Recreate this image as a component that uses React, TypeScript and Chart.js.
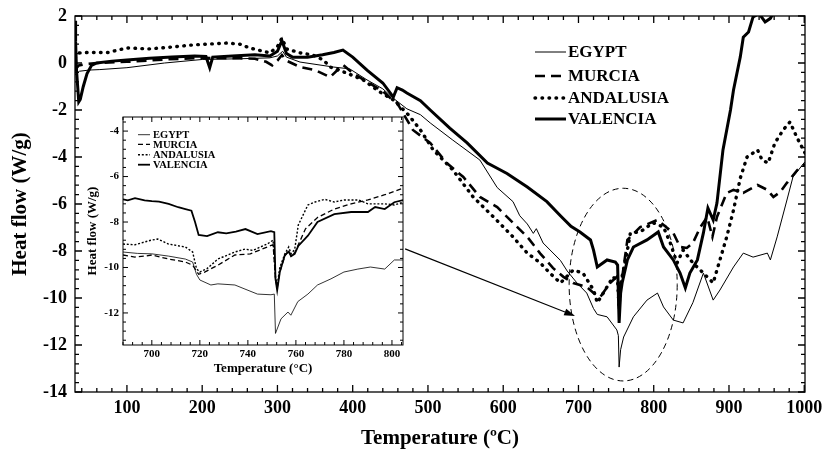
import { useEffect, useRef } from 'react';
import { Chart, registerables } from 'chart.js';
Chart.register(...registerables);

const FONT = "'Liberation Serif', 'Times New Roman', serif";

const seriesNames = ['EGYPT', 'MURCIA', 'ANDALUSIA', 'VALENCIA'];

// main plot: [temperature °C, heat flow W/g]
const egyptMain: [number, number][] = [
  [31, -0.5], [37, -0.35], [50, -0.3], [64, -0.28], [100, -0.2], [150, 0.0], [200, 0.15], [250, 0.18],
  [290, 0.22], [300, 0.3], [307, 0.5], [312, 0.25], [330, 0.04], [374, -0.17], [396, -0.25], [419, -0.72],
  [440, -1.1], [454, -1.5], [472, -1.95], [490, -2.2], [503, -2.55], [533, -3.28], [569, -4.13], [592, -5.3],
  [613, -5.9], [622, -6.5], [632, -6.85], [640, -7.25], [644, -7.05], [653, -7.66], [676, -8.4], [685, -8.85],
  [698, -9.36], [711, -9.79], [720, -10.45], [725, -10.7], [738, -10.8], [751, -11.36], [753, -11.6],
  [754, -12.94], [756, -12.2], [760, -11.66], [773, -10.8], [791, -10.09], [805, -9.79], [813, -10.38],
  [826, -10.94], [839, -11.06], [852, -10.2], [866, -8.94], [879, -10.09], [888, -9.66], [906, -8.68],
  [919, -8.09], [932, -8.26], [951, -8.09], [955, -8.38], [964, -7.4], [977, -5.83], [985, -4.85], [1001, -4.2],
];
const murciaMain: [number, number][] = [
  [31, -0.3], [36, -0.1], [45, -0.05], [60, 0.0], [100, 0.05], [150, 0.15], [200, 0.22], [250, 0.2],
  [270, 0.18], [285, 0.05], [293, -0.1], [300, 0.1], [306, 0.34], [312, 0.1], [330, -0.17], [350, -0.3],
  [370, -0.6], [387, -0.08], [400, -0.43], [419, -0.8], [440, -1.2], [454, -1.6], [459, -1.7], [480, -2.85],
  [503, -3.4], [525, -4.26], [547, -4.85], [569, -5.7], [592, -6.13], [613, -6.8], [632, -7.4], [649, -8.1],
  [666, -8.72], [680, -9.1], [693, -9.36], [711, -9.53], [720, -9.79], [729, -9.96], [742, -9.36], [751, -9.1],
  [753, -9.2], [754, -10.6], [756, -9.6], [765, -7.53], [782, -6.98], [805, -6.68], [826, -7.23], [835, -7.83],
  [844, -7.87], [852, -7.66], [862, -6.98], [871, -6.55], [878, -7.4], [884, -6.55], [897, -5.53], [906, -5.4],
  [919, -5.53], [938, -5.19], [951, -5.4], [959, -5.7], [968, -5.49], [977, -5.1], [991, -4.55], [1001, -4.3],
];
const andalusiaMain: [number, number][] = [
  [31, 0.2], [37, 0.43], [50, 0.45], [75, 0.45], [100, 0.64], [130, 0.6], [160, 0.68], [188, 0.77],
  [233, 0.85], [250, 0.8], [263, 0.64], [290, 0.43], [300, 0.7], [306, 1.06], [312, 0.6], [330, 0.43],
  [347, 0.34], [361, 0.13], [370, -0.17], [392, -0.43], [414, -0.72], [436, -1.23], [454, -1.57], [472, -2.13],
  [490, -2.85], [507, -3.7], [533, -4.55], [560, -5.7], [587, -6.55], [613, -7.4], [632, -8.09], [649, -8.5],
  [662, -8.94], [676, -9.36], [693, -8.81], [706, -8.94], [720, -9.66], [725, -10.2], [733, -9.79], [746, -9.1],
  [752, -9.3], [754, -10.4], [756, -9.4], [765, -7.96], [769, -7.23], [782, -7.19], [799, -6.8], [813, -6.98],
  [822, -7.66], [831, -8.51], [839, -7.96], [852, -8.51], [866, -8.94], [879, -9.36], [884, -8.81], [897, -7.4],
  [906, -6.26], [915, -4.9], [924, -4.0], [938, -3.7], [944, -4.13], [952, -4.26], [961, -3.4], [972, -2.85],
  [981, -2.51], [990, -3.15], [1001, -3.83],
];
const valenciaMain: [number, number][] = [
  [31, 1.8], [31.8, 0.9], [33, -0.3], [36, -1.65], [38, -1.55], [42, -1.0], [47, -0.45], [53, -0.1], [60, 0.0],
  [80, 0.08], [100, 0.13], [130, 0.2], [160, 0.26], [190, 0.3], [205, 0.28], [210, -0.2], [214, 0.25], [240, 0.3],
  [270, 0.35], [290, 0.3], [300, 0.5], [306, 0.95], [312, 0.4], [320, 0.25], [340, 0.25], [360, 0.35], [375, 0.45],
  [387, 0.55], [400, 0.25], [419, -0.3], [440, -0.85], [454, -1.45], [459, -1.05], [466, -1.15], [472, -1.28],
  [490, -1.6], [503, -2.0], [529, -2.77], [552, -3.4], [579, -4.26], [605, -4.7], [632, -5.28], [658, -5.9],
  [676, -6.5], [690, -6.95], [702, -7.19], [716, -7.53], [720, -7.96], [725, -8.68], [738, -8.38], [749, -8.47],
  [752, -8.6], [754, -11.06], [756, -9.8], [758, -9.36], [765, -8.38], [773, -7.83], [791, -7.53], [806, -7.19],
  [813, -7.83], [826, -8.38], [835, -8.94], [842, -9.57], [848, -8.94], [858, -8.38], [866, -7.23], [872, -6.17],
  [879, -6.68], [884, -5.96], [892, -3.7], [902, -2.0], [906, -1.15], [915, 0.26], [919, 1.1], [926, 1.32],
  [932, 1.96], [940, 2.1], [948, 1.75], [955, 1.9], [962, 2.3], [975, 2.6], [990, 2.9], [1001, 3.1],
];

// inset: 688–805 °C zoom
const egyptInset: [number, number][] = [
  [688, -9.32], [694, -9.38], [700, -9.4], [707, -9.5], [714, -9.63], [717, -9.76], [718.6, -10.3], [720, -10.55],
  [724.6, -10.77], [727.5, -10.72], [734.6, -10.77], [738.8, -10.95], [744, -11.17], [749.6, -11.2], [751, -11.17],
  [751.5, -12.9], [753.8, -12.26], [756.7, -11.96], [757.9, -12.1], [760.8, -11.5], [765, -11.17], [769, -10.77],
  [774.6, -10.5], [780, -10.2], [785.8, -10.07], [791, -9.98], [797, -10.07], [801, -9.67], [805, -9.67],
];
const murciaInset: [number, number][] = [
  [688, -9.45], [693, -9.54], [697, -9.5], [700, -9.45], [707, -9.63], [714, -9.76], [717, -9.9], [719.5, -10.3],
  [722, -10.2], [727.5, -9.9], [734.6, -9.45], [741, -9.4], [748, -9.1], [750.5, -9.0], [751.5, -10.5],
  [752.2, -10.9], [753.3, -10.2], [755.4, -9.5], [757, -9.25], [758, -9.5], [759.5, -9.35], [764, -8.3],
  [769, -7.8], [776, -7.43], [783, -7.2], [790, -7.03], [797, -6.8], [805, -6.5],
];
const andalusiaInset: [number, number][] = [
  [688, -8.97], [693, -9.0], [699.6, -8.8], [702.5, -8.75], [707, -8.97], [714, -9.1], [717, -9.32], [718.6, -10.05],
  [720, -10.2], [723, -10.05], [727.5, -9.63], [734.6, -9.32], [738.8, -9.19], [742, -9.25], [748, -8.97],
  [750.5, -8.8], [751.5, -10.4], [752.2, -10.8], [753.3, -10.0], [755.4, -9.4], [757, -9.1], [758, -9.4],
  [759.5, -9.2], [761, -8.13], [765, -7.25], [768, -7.12], [772, -7.0], [776, -7.12], [780, -7.03], [786, -7.03],
  [790, -7.2], [797, -7.2], [801, -7.25], [805, -7.12],
];
const valenciaInset: [number, number][] = [
  [688, -7.0], [690, -7.05], [693, -6.95], [697, -7.05], [700, -7.08], [703, -7.1], [707, -7.2], [711, -7.35],
  [714, -7.43], [716.5, -7.5], [718, -8.0], [719.5, -8.57], [723, -8.62], [727.5, -8.45], [731, -8.5], [735, -8.42],
  [739, -8.31], [744, -8.53], [749.6, -8.4], [751, -8.45], [751.5, -10.5], [752.2, -11.0], [753.3, -10.2],
  [755.4, -9.45], [757, -9.3], [758, -9.5], [759.5, -9.4], [761, -9.05], [765, -8.6], [769, -8.0], [776, -7.65],
  [783, -7.56], [790, -7.56], [793, -7.34], [797, -7.43], [801, -7.13], [805, -7.03],
];

const mainXTicks = [100, 200, 300, 400, 500, 600, 700, 800, 900, 1000];
const mainYTicks = [-14, -12, -10, -8, -6, -4, -2, 0, 2];
const insetXTicks = [700, 720, 740, 760, 780, 800];
const insetYTicks = [-12, -10, -8, -6, -4];

const toXY = (p: [number, number][]) => p.map(([x, y]) => ({ x, y }));

const mainStyles = [
  { borderWidth: 1 },
  { borderWidth: 2.6, borderDash: [10, 6] },
  { borderWidth: 3.4, borderDash: [0.6, 6.4], borderCapStyle: 'round' },
  { borderWidth: 3 },
];
const insetStyles = [
  { borderWidth: 0.8 },
  { borderWidth: 1.3, borderDash: [5, 3] },
  { borderWidth: 1.4, borderDash: [2, 1.8] },
  { borderWidth: 1.8 },
];

function isMult(v: number, step: number) {
  const r = v / step;
  return Math.abs(r - Math.round(r)) < 1e-6;
}

const frameTicks = {
  id: 'frameTicks',
  afterDatasetsDraw(chart: any, _a: any, o: any) {
    const { ctx, chartArea, scales } = chart;
    const { left, right, top, bottom } = chartArea;
    const x = scales.x, y = scales.y;
    ctx.save();
    ctx.strokeStyle = '#000';
    ctx.lineWidth = o.lw;
    ctx.setLineDash([]);
    ctx.beginPath();
    for (let i = Math.ceil(x.min / o.xMinor); i * o.xMinor <= x.max + 1e-9; i++) {
      const v = i * o.xMinor;
      const px = x.getPixelForValue(v);
      const L = isMult(v, o.xMajor) ? o.major : o.minor;
      ctx.moveTo(px, bottom); ctx.lineTo(px, bottom - L);
      ctx.moveTo(px, top); ctx.lineTo(px, top + L);
    }
    for (let i = Math.ceil(y.min / o.yMinor - 1e-9); i * o.yMinor <= y.max + 1e-9; i++) {
      const v = i * o.yMinor;
      const py = y.getPixelForValue(v);
      const L = isMult(v, o.yMajor) ? o.major : o.minor;
      ctx.moveTo(left, py); ctx.lineTo(left + L, py);
      ctx.moveTo(right, py); ctx.lineTo(right - L, py);
    }
    ctx.stroke();
    ctx.strokeRect(left, top, right - left, bottom - top);
    ctx.restore();
  },
};

function drawLegend(chart: any, o: any) {
  const { ctx } = chart;
  ctx.save();
  chart.data.datasets.forEach((ds: any, i: number) => {
    const yy = o.ys[i];
    ctx.strokeStyle = '#000';
    ctx.lineWidth = ds.borderWidth;
    ctx.lineCap = ds.borderCapStyle || 'butt';
    ctx.setLineDash(ds.borderDash || []);
    ctx.beginPath();
    ctx.moveTo(o.x0, yy);
    ctx.lineTo(o.x1, yy);
    ctx.stroke();
    ctx.setLineDash([]);
    ctx.fillStyle = '#000';
    ctx.font = `bold ${o.size}px ${FONT}`;
    ctx.textBaseline = 'middle';
    ctx.textAlign = 'left';
    ctx.fillText(ds.label, o.tx, yy + o.dy);
  });
  ctx.restore();
}

const mainDecor = {
  id: 'mainDecor',
  afterDatasetsDraw(chart: any, _a: any, o: any) {
    const { ctx, scales } = chart;
    const x = scales.x, y = scales.y;
    ctx.save();
    // dashed ellipse
    const cx = x.getPixelForValue(o.ellipse.cx);
    const cy = y.getPixelForValue(o.ellipse.cy);
    const rx = Math.abs(x.getPixelForValue(o.ellipse.cx + o.ellipse.rx) - cx);
    const ry = Math.abs(y.getPixelForValue(o.ellipse.cy + o.ellipse.ry) - cy);
    ctx.strokeStyle = '#000';
    ctx.lineWidth = 1;
    ctx.setLineDash([6, 4]);
    ctx.beginPath();
    ctx.ellipse(cx, cy, rx, ry, 0, 0, Math.PI * 2);
    ctx.stroke();
    ctx.setLineDash([]);
    // arrow
    const x0 = x.getPixelForValue(o.arrow.from[0]), y0 = y.getPixelForValue(o.arrow.from[1]);
    const x1 = x.getPixelForValue(o.arrow.to[0]), y1 = y.getPixelForValue(o.arrow.to[1]);
    const ang = Math.atan2(y1 - y0, x1 - x0);
    const hl = 11, hw = 3.5;
    ctx.lineWidth = 1.1;
    ctx.beginPath();
    ctx.moveTo(x0, y0);
    ctx.lineTo(x1 - hl * Math.cos(ang), y1 - hl * Math.sin(ang));
    ctx.stroke();
    ctx.fillStyle = '#000';
    ctx.beginPath();
    ctx.moveTo(x1, y1);
    ctx.lineTo(x1 - hl * Math.cos(ang) + hw * Math.sin(ang), y1 - hl * Math.sin(ang) - hw * Math.cos(ang));
    ctx.lineTo(x1 - hl * Math.cos(ang) - hw * Math.sin(ang), y1 - hl * Math.sin(ang) + hw * Math.cos(ang));
    ctx.closePath();
    ctx.fill();
    ctx.restore();
    drawLegend(chart, o.legend);
  },
};

const insetDecor = {
  id: 'insetDecor',
  beforeDatasetsDraw(chart: any) {
    const { ctx, chartArea } = chart;
    ctx.save();
    ctx.fillStyle = '#fff';
    ctx.fillRect(chartArea.left, chartArea.top, chartArea.right - chartArea.left, chartArea.bottom - chartArea.top);
    ctx.restore();
  },
  afterDatasetsDraw(chart: any, _a: any, o: any) {
    drawLegend(chart, o.legend);
  },
};

function makeDatasets(series: [number, number][][], styles: any[]) {
  return series.map((s, i) => ({
    label: seriesNames[i],
    data: toXY(s),
    borderColor: '#000',
    backgroundColor: '#000',
    pointRadius: 0,
    tension: 0,
    fill: false,
    ...styles[i],
  }));
}

function axisCfg(opts: any) {
  return {
    type: 'linear',
    min: opts.min,
    max: opts.max,
    grid: { display: false, drawTicks: false },
    border: { display: false },
    afterBuildTicks: (s: any) => { s.ticks = opts.ticks.map((v: number) => ({ value: v })); },
    afterFit: opts.afterFit,
    ticks: {
      autoSkip: false,
      maxRotation: 0,
      color: '#000',
      padding: opts.pad,
      font: { family: FONT, size: opts.tickSize, weight: 'bold' },
      callback: (v: any) => String(v),
    },
    title: {
      display: true,
      text: opts.title,
      color: '#000',
      font: { family: FONT, size: opts.titleSize, weight: 'bold' },
      padding: opts.titlePad,
    },
  };
}

export default function App() {
  const mainRef = useRef<HTMLCanvasElement>(null);
  const insetRef = useRef<HTMLCanvasElement>(null);

  useEffect(() => {
    const main = new Chart(mainRef.current as HTMLCanvasElement, {
      type: 'line',
      data: { datasets: makeDatasets([egyptMain, murciaMain, andalusiaMain, valenciaMain], mainStyles) as any },
      options: {
        animation: false,
        responsive: false,
        events: [],
        layout: { padding: { top: 16, right: 18, left: 0, bottom: 0 } },
        scales: {
          x: axisCfg({
            min: 31, max: 1001, ticks: mainXTicks, pad: 6, tickSize: 18, title: 'Temperature (ºC)', titleSize: 21,
            titlePad: { top: 0, bottom: 0 },
            afterFit: (s: any) => { s.height = 59; s.paddingLeft = 0; s.paddingRight = 0; },
          }),
          y: axisCfg({
            min: -14, max: 2, ticks: mainYTicks, pad: 8, tickSize: 18, title: 'Heat flow (W/g)', titleSize: 21,
            titlePad: { top: 8, bottom: 0 },
            afterFit: (s: any) => { s.width = 75; s.paddingTop = 0; s.paddingBottom = 0; },
          }),
        } as any,
        plugins: {
          legend: { display: false },
          tooltip: { enabled: false },
          frameTicks: { lw: 1.3, xMinor: 20, xMajor: 100, yMinor: 0.4, yMajor: 2, major: 7, minor: 4 },
          mainDecor: {
            ellipse: { cx: 759.4, cy: -9.43, rx: 71.8, ry: 4.1 },
            arrow: { from: [469.6, -7.91], to: [695.6, -10.77] },
            legend: { x0: 535, x1: 566, tx: 568, ys: [52, 76, 98, 119], size: 17, dy: 1 },
          },
        } as any,
      },
      plugins: [frameTicks, mainDecor],
    });

    const inset = new Chart(insetRef.current as HTMLCanvasElement, {
      type: 'line',
      data: { datasets: makeDatasets([egyptInset, murciaInset, andalusiaInset, valenciaInset], insetStyles) as any },
      options: {
        animation: false,
        responsive: false,
        events: [],
        layout: { padding: { top: 7, right: 7, left: 0, bottom: 0 } },
        scales: {
          x: axisCfg({
            min: 688, max: 804.6, ticks: insetXTicks, pad: 3, tickSize: 11, title: 'Temperature (°C)', titleSize: 13,
            titlePad: { top: 0, bottom: 2 },
            afterFit: (s: any) => { s.height = 33; s.paddingLeft = 0; s.paddingRight = 0; },
          }),
          y: axisCfg({
            min: -13.41, max: -3.38, ticks: insetYTicks, pad: 4, tickSize: 11, title: 'Heat flow (W/g)', titleSize: 13,
            titlePad: { top: 5, bottom: 0 },
            afterFit: (s: any) => { s.width = 43; s.paddingTop = 0; s.paddingBottom = 0; },
          }),
        } as any,
        plugins: {
          legend: { display: false },
          tooltip: { enabled: false },
          frameTicks: { lw: 1, xMinor: 4, xMajor: 20, yMinor: 0.4, yMajor: 2, major: 5, minor: 3 },
          insetDecor: {
            legend: { x0: 58, x1: 70, tx: 73, ys: [24.7, 34.3, 44.7, 54.7], size: 10.5, dy: 0.5 },
          },
        } as any,
      },
      plugins: [insetDecor, frameTicks],
    });

    return () => {
      main.destroy();
      inset.destroy();
    };
  }, []);

  return (
    <div style={{ position: 'fixed', left: 0, top: 0, width: 823, height: 451, background: '#fff' }}>
      <canvas ref={mainRef} width={823} height={451} style={{ position: 'absolute', left: 0, top: 0, display: 'block' }} />
      <canvas ref={insetRef} width={330} height={268} style={{ position: 'absolute', left: 80, top: 110, display: 'block' }} />
    </div>
  );
}
